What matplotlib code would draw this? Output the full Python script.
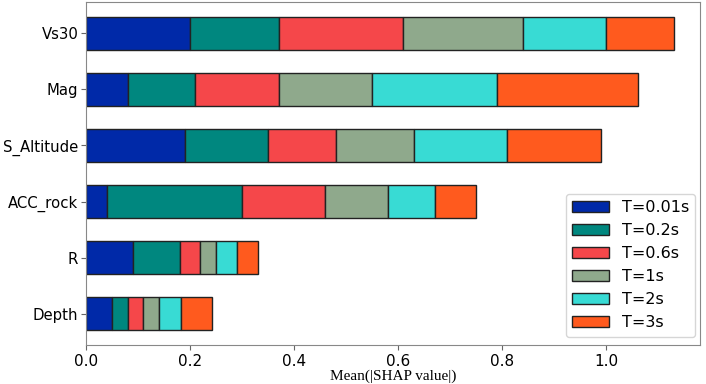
import numpy as np
import matplotlib
matplotlib.use('Agg')
import matplotlib.pyplot as plt

# ── Data ──────────────────────────────────────────────────────
features = ['Vs30', 'Mag', 'S_Altitude', 'ACC_rock', 'R', 'Depth']
periods = ['T=0.01s', 'T=0.2s', 'T=0.6s', 'T=1s', 'T=2s', 'T=3s']
colors = ['#0029A8', '#00877F', '#F5474A', '#8FA98C', '#38DBD4', '#FF5A1E']

t001 = [0.20, 0.08, 0.19, 0.04, 0.09, 0.05]
t02 = [0.17, 0.13, 0.16, 0.26, 0.09, 0.03]
t06 = [0.24, 0.16, 0.13, 0.16, 0.04, 0.03]
t1 = [0.23, 0.18, 0.15, 0.12, 0.03, 0.03]
t2 = [0.16, 0.24, 0.18, 0.09, 0.04, 0.043]
t3 = [0.13, 0.27, 0.18, 0.08, 0.04, 0.06]
series = [t001, t02, t06, t1, t2, t3]

fig = plt.figure(figsize=(7.06, 3.84), dpi=100)
ax = fig.add_axes([86 / 706, 1 - 345 / 384, 614 / 706, 343 / 384])

y = np.arange(len(features))[::-1]
left = np.zeros(len(features))
for vals, label, c in zip(series, periods, colors):
    ax.barh(y, vals, left=left, height=0.6, color=c, edgecolor='#222222',
            linewidth=1.0, label=label)
    left += np.array(vals)

ax.set_yticks(y)
ax.set_yticklabels(features, fontsize=10.7)
ax.tick_params(axis='y', pad=2)
ax.set_xticks([0.0, 0.2, 0.4, 0.6, 0.8, 1.0])
ax.tick_params(axis='x', labelsize=11, pad=3)
ax.set_xlim(0, 1.18)
ax.set_ylim(-0.56, 5.56)
ax.set_xlabel('Mean(|SHAP value|)', fontsize=11, family='Liberation Serif', labelpad=0)

for s in ax.spines.values():
    s.set_color('#888888')
ax.tick_params(color='#666666')

ax.legend(loc='lower right', fontsize=11.5, handlelength=2.3, labelspacing=0.5,
          bbox_to_anchor=(1.0, 0.01), borderaxespad=0.3)

fig.savefig('out.png', dpi=100)
